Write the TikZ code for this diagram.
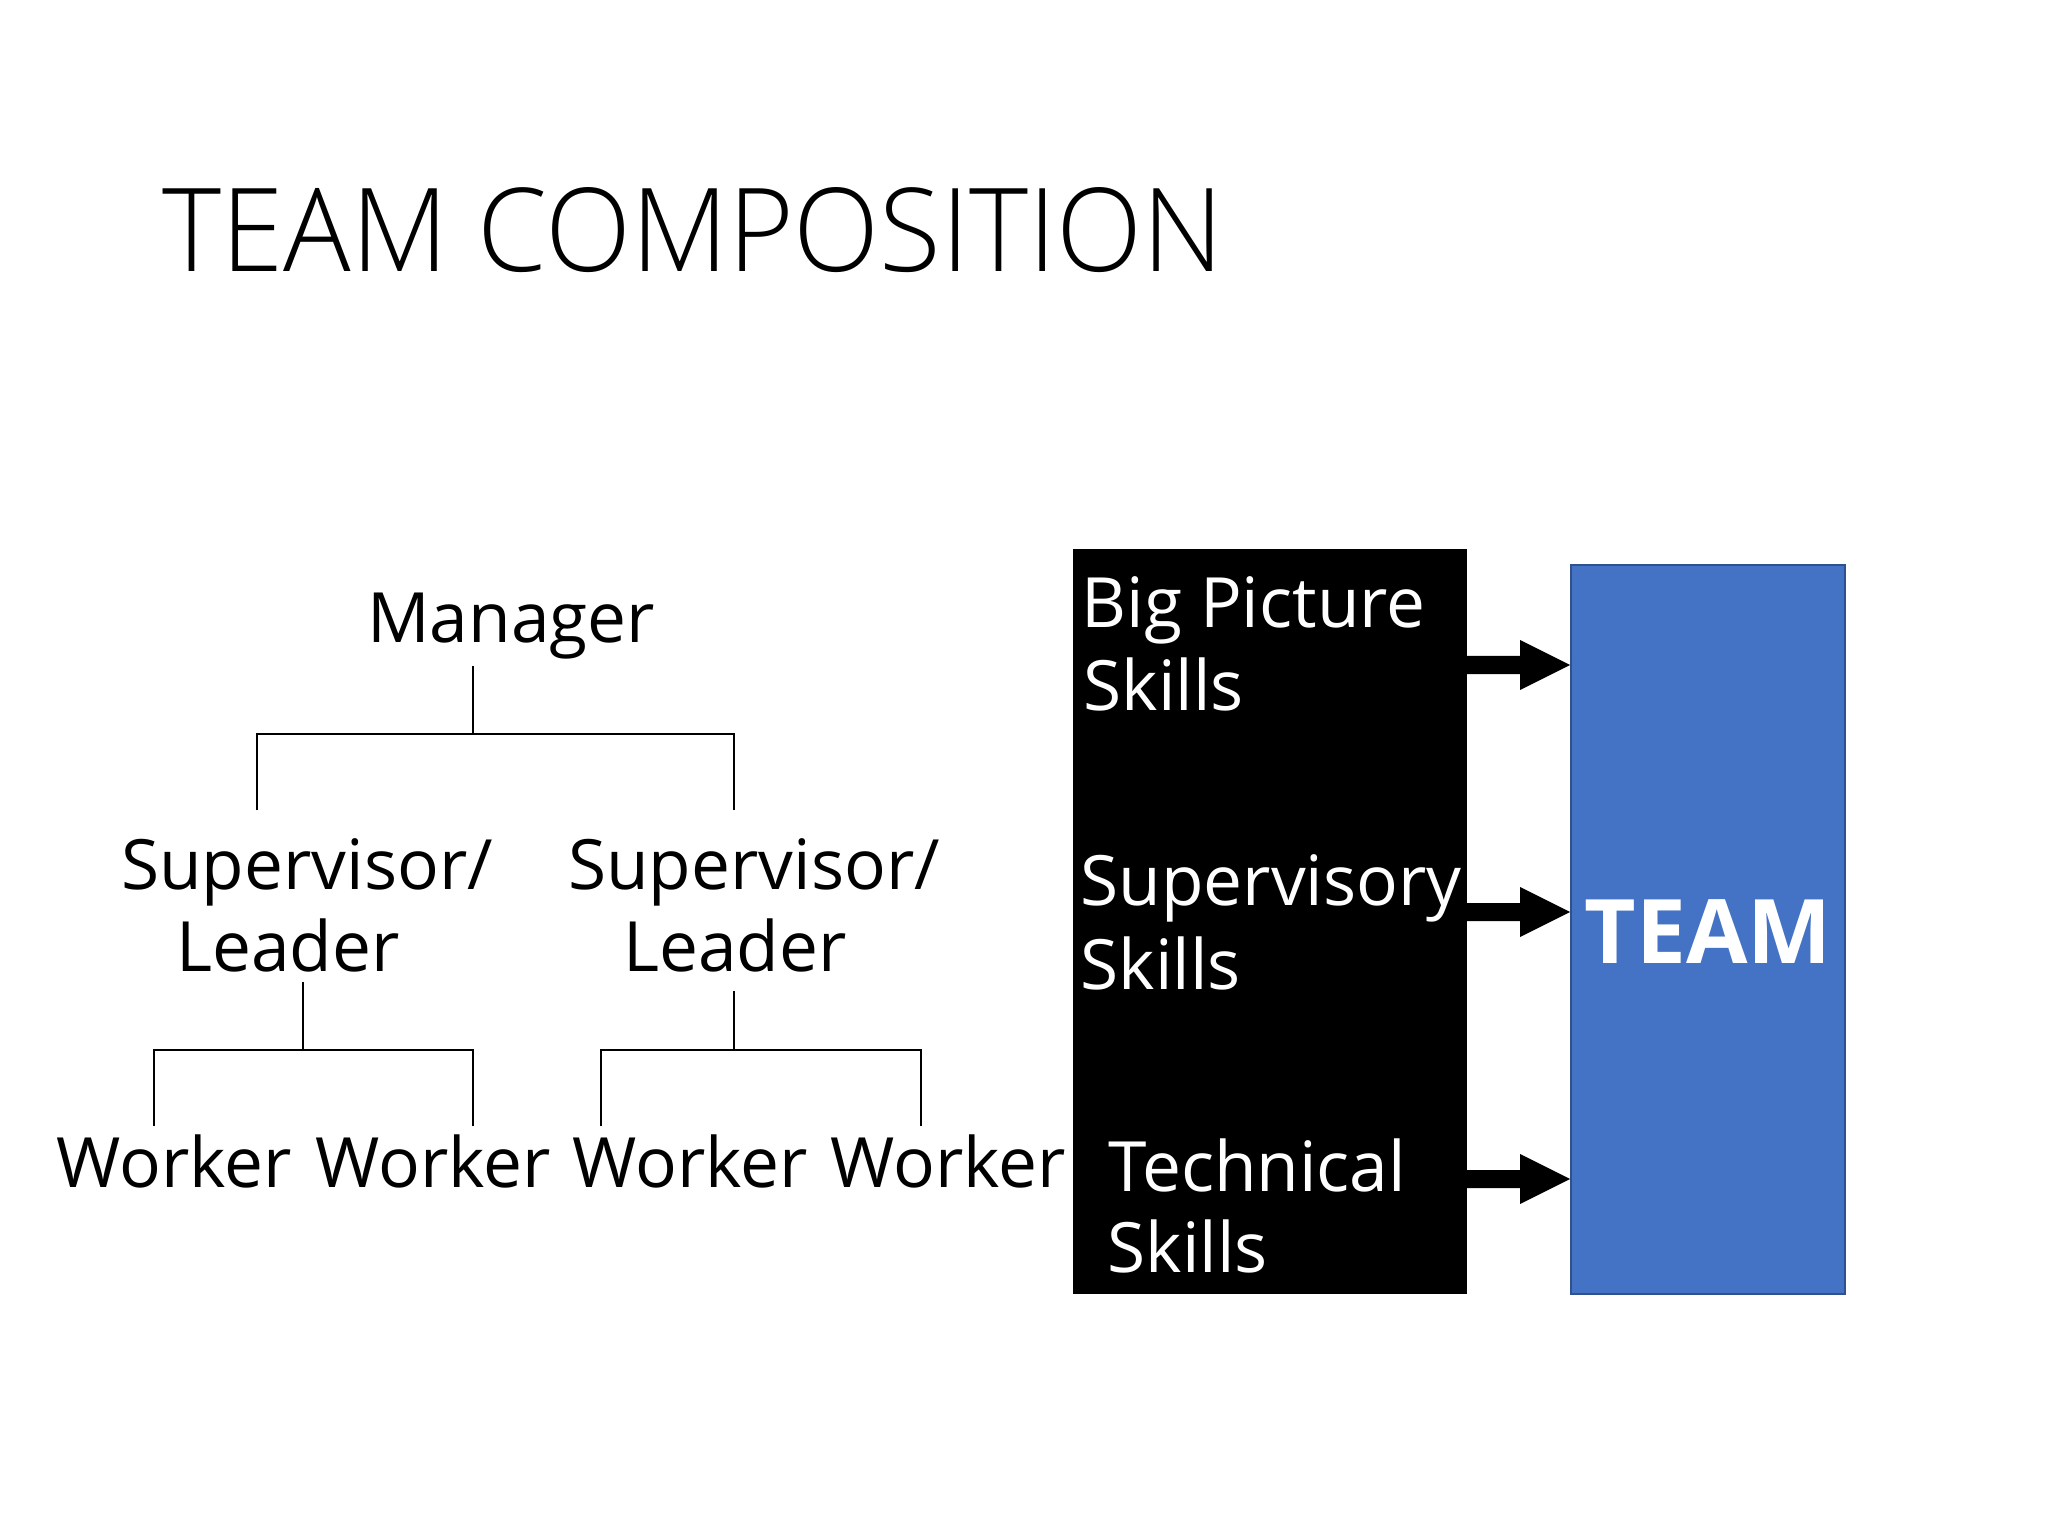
\documentclass[tikz,border=0pt]{standalone}
\usepackage{fontspec}
\usepackage{graphicx}
\usetikzlibrary{calc}
\newfontfamily\bodyfont{Open Sans}
\IfFontExistsTF{Open Sans Light}{\newfontfamily\titlefont{Open Sans Light}}{\newfontfamily\titlefont{Open Sans}}
\newlength\pxu
\setlength\pxu{0.3515625pt}
\definecolor{teamblue}{HTML}{4472C4}
\definecolor{teamedge}{HTML}{2F528F}
\begin{document}
\begin{tikzpicture}[x=0.3515625pt,y=-0.3515625pt,
  lbl/.style={inner sep=0pt,anchor=base,font=\bodyfont\fontsize{24.4}{29}\selectfont},
  wlbl/.style={lbl,anchor=base west,text=white},
  tree/.style={line width=0.7pt,black},
  arrowfill/.style={fill=black}]
\useasboundingbox[fill=white] (0,0) rectangle (2048,1536);

% title
\node[inner sep=0pt,anchor=base west] (title) at (162,272)
  {\resizebox{1061\pxu}{84\pxu}{\titlefont TEAM COMPOSITION}};

% org chart
\node[lbl] (mgr) at (511,642) {Manager};
\node[lbl] (supLa) at (307,889) {Supervisor/};
\node[lbl] (supLb) at (288,971) {Leader};
\node[lbl] (supRa) at (754,889) {Supervisor/};
\node[lbl] (supRb) at (735,971) {Leader};
\node[lbl] (w1) at (174,1187) {Worker};
\node[lbl] (w2) at (433,1187) {Worker};
\node[lbl] (w3) at (690,1187) {Worker};
\node[lbl] (w4) at (948,1187) {Worker};

\coordinate (m0) at (473,666);
\coordinate (m1) at (473,734);
\coordinate (mL) at (257,734);
\coordinate (mR) at (734,734);
\coordinate (mLe) at (257,810);
\coordinate (mRe) at (734,810);
\draw[tree] (m0) -- (m1);
\draw[tree] (mLe) -- (mL) -- (mR) -- (mRe);

\coordinate (l0) at (303,982);
\coordinate (l1) at (303,1050);
\coordinate (lL) at (154,1050);
\coordinate (lR) at (473,1050);
\coordinate (lLe) at (154,1126);
\coordinate (lRe) at (473,1126);
\draw[tree] (l0) -- (l1);
\draw[tree] (lLe) -- (lL) -- (lR) -- (lRe);

\coordinate (r0) at (734,991);
\coordinate (r1) at (734,1050);
\coordinate (rL) at (601,1050);
\coordinate (rR) at (921,1050);
\coordinate (rLe) at (601,1126);
\coordinate (rRe) at (921,1126);
\draw[tree] (r0) -- (r1);
\draw[tree] (rLe) -- (rL) -- (rR) -- (rRe);

% skills box
\node[fill=black,draw=black,inner sep=0pt,minimum width=393\pxu,minimum height=744\pxu,anchor=north west] (blk) at (1073,549) {};
\node[wlbl] (bp1) at (1081,628) {Big Picture};
\node[wlbl] (bp2) at (1083,710) {Skills};
\node[wlbl] (sv1) at (1080,905) {Supervisory};
\node[wlbl] (sv2) at (1080,989) {Skills};
\node[wlbl] (tc1) at (1108,1191) {Technical};
\node[wlbl] (tc2) at (1107,1272) {Skills};

% team box
\node[fill=teamblue,draw=teamedge,line width=0.8pt,inner sep=0pt,
  minimum width=274\pxu,minimum height=729\pxu,anchor=north west,
  text=white,text height=67\pxu,text depth=0pt] (team) at (1570,564)
  {\resizebox{247\pxu}{!}{\bodyfont\bfseries TEAM}};

% block arrows
\foreach \yy/\nm in {665/a1,912/a2,1179/a3}{
  \coordinate (\nm) at (0,\yy);
  \fill[arrowfill] ($(blk.east |- \nm)+(0,-9)$) -- ($(team.west |- \nm)+(-50,-9)$)
    -- ($(team.west |- \nm)+(-50,-25)$) -- (team.west |- \nm)
    -- ($(team.west |- \nm)+(-50,25)$) -- ($(team.west |- \nm)+(-50,9)$)
    -- ($(blk.east |- \nm)+(0,9)$) -- cycle;
}
\end{tikzpicture}
\end{document}
